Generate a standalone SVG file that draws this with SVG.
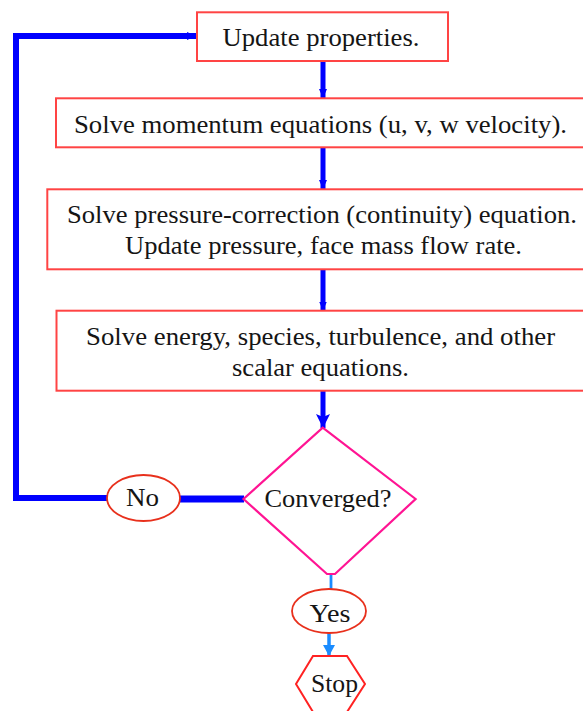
<svg xmlns="http://www.w3.org/2000/svg" width="583" height="711" viewBox="0 0 583 711">
<style>
  .box { fill: #ffffff; stroke: #ff4444; stroke-width: 2; }
  .oval { fill: #ffffff; stroke: #e8301c; stroke-width: 1.8; }
  .dia { fill: #ffffff; stroke: #ff1493; stroke-width: 2.2; }
  .hex { fill: #ffffff; stroke: #ff2222; stroke-width: 2; }
  .t { font-family: "Liberation Serif", "Times New Roman", serif; font-size: 26px; fill: #151515; text-anchor: middle; }
  .flow { fill: none; stroke: #0000ff; stroke-linejoin: miter; stroke-linecap: butt; }
  .lb { fill: none; stroke: #1a8cff; }
</style>
<defs>
  <marker id="ah" markerUnits="userSpaceOnUse" markerWidth="12" markerHeight="12" refX="9" refY="5" orient="auto">
    <path d="M0,1 L9,5 L0,9 Z" fill="#0000ff"/>
  </marker>
  <marker id="ahBig" markerUnits="userSpaceOnUse" markerWidth="18" markerHeight="18" refX="14" refY="8" orient="auto">
    <path d="M0,1 L14,8 L0,15 L3,8 Z" fill="#0000ff"/>
  </marker>
  <marker id="ahL" markerUnits="userSpaceOnUse" markerWidth="16" markerHeight="16" refX="11" refY="7" orient="auto">
    <path d="M0,1 L11,7 L0,13 Z" fill="#1a8cff"/>
  </marker>
</defs>

<g id="connectors">
  <line class="flow" x1="323" y1="61" x2="323" y2="98" stroke-width="5" marker-end="url(#ah)"/>
  <line class="flow" x1="323" y1="147.5" x2="323" y2="189" stroke-width="5" marker-end="url(#ah)"/>
  <line class="flow" x1="323" y1="269.5" x2="323" y2="310.5" stroke-width="5" marker-end="url(#ah)"/>
  <line class="flow" x1="323" y1="391" x2="323" y2="428" stroke-width="5" marker-end="url(#ahBig)"/>
  <line class="flow" x1="180" y1="499" x2="244" y2="499" stroke-width="7"/>
  <polyline class="flow" points="107,498 16,498 16,36 196,36" stroke-width="6" marker-end="url(#ah)"/>
  <line class="lb" x1="331" y1="574" x2="331" y2="589" stroke-width="2.8"/>
  <line class="lb" x1="329" y1="633" x2="329" y2="656" stroke-width="3.5" marker-end="url(#ahL)"/>
</g>

<g id="update">
  <rect class="box" x="197" y="12.3" width="251" height="48.7"/>
  <text class="t" x="321" y="46" textLength="197" lengthAdjust="spacingAndGlyphs">Update properties.</text>
</g>

<g id="momentum">
  <rect class="box" x="56" y="98.3" width="540" height="49"/>
  <text class="t" x="320.5" y="133" textLength="493" lengthAdjust="spacingAndGlyphs">Solve momentum equations (u, v, w velocity).</text>
</g>

<g id="pressure">
  <rect class="box" x="47.3" y="189.3" width="550" height="80"/>
  <text class="t" x="322" y="223" textLength="510" lengthAdjust="spacingAndGlyphs">Solve pressure-correction (continuity) equation.</text>
  <text class="t" x="323.5" y="254" textLength="397" lengthAdjust="spacingAndGlyphs">Update pressure, face mass flow rate.</text>
</g>

<g id="energy">
  <rect class="box" x="56.5" y="310.7" width="540" height="80"/>
  <text class="t" x="320.6" y="345" textLength="469" lengthAdjust="spacingAndGlyphs">Solve energy, species, turbulence, and other</text>
  <text class="t" x="320.5" y="376" textLength="177" lengthAdjust="spacingAndGlyphs">scalar equations.</text>
</g>

<g id="converged">
  <polygon class="dia" points="322.7,427.7 415.6,499 335,574 327,574 243.5,499"/>
  <text class="t" x="328" y="507" textLength="127" lengthAdjust="spacingAndGlyphs">Converged?</text>
</g>

<g id="no">
  <ellipse class="oval" cx="143.5" cy="498" rx="36.5" ry="23"/>
  <text class="t" x="142.5" y="506" textLength="33" lengthAdjust="spacingAndGlyphs">No</text>
</g>

<g id="yes">
  <ellipse class="oval" cx="329" cy="611" rx="37" ry="22"/>
  <text class="t" x="330" y="622" textLength="41" lengthAdjust="spacingAndGlyphs">Yes</text>
</g>

<g id="stop">
  <polygon class="hex" points="313,656 347,656 365,684 347,712 313,712 296,684"/>
  <text class="t" x="334.5" y="692" textLength="47" lengthAdjust="spacingAndGlyphs">Stop</text>
</g>
</svg>
